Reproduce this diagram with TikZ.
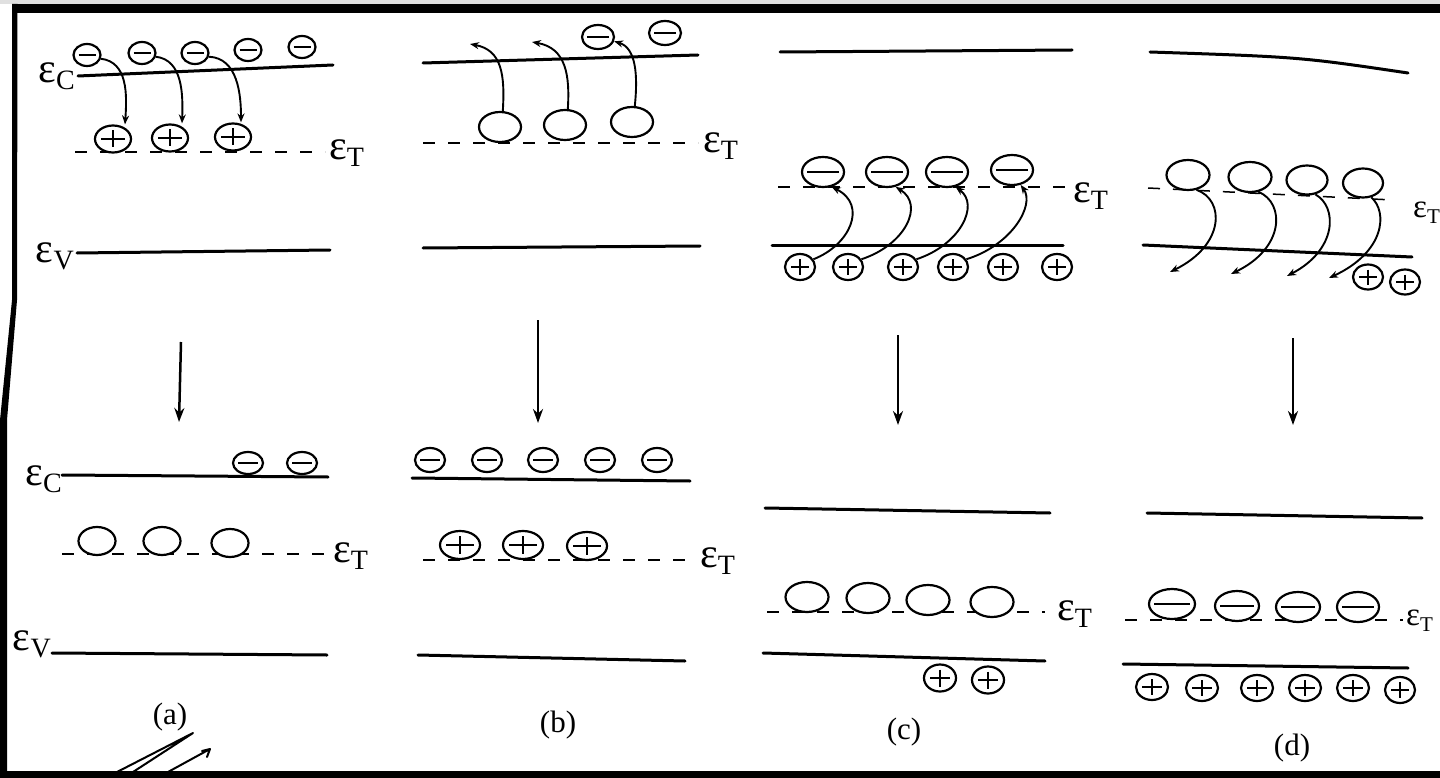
\documentclass[tikz,border=0pt]{standalone}
\usepackage{fontspec}
\setmainfont{Liberation Serif}
\usetikzlibrary{shapes.geometric, arrows.meta}

\newcommand\lvlsub[1]{\raisebox{-7pt}{\fontsize{28}{30}\selectfont #1}}
\newcommand\lvlsubsmall[1]{\raisebox{-6pt}{\fontsize{21}{22}\selectfont #1}}

\begin{document}
\begin{tikzpicture}[%
    x=1pt, y=-1pt,
    >={Stealth[length=9pt,width=7pt]},
    band/.style={line width=3pt, line cap=round},
    trap/.style={line width=1.5pt, dash pattern=on 12pt off 13pt},
    lvl/.style={font=\fontsize{42}{44}\selectfont, inner sep=0pt},
    lvlsmall/.style={font=\fontsize{33}{34}\selectfont, inner sep=0pt},
    tag/.style={font=\fontsize{31}{34}\selectfont, inner sep=0pt},
    dims/.style 2 args={minimum width=#1pt, minimum height=#2pt},
    site/.style={ellipse, draw, fill=white, line width=2.2pt, inner sep=0pt},
    elec/.style={site, path picture={%
        \draw[line width=1.5pt] ([xshift=5pt]path picture bounding box.west)
          -- ([xshift=-5pt]path picture bounding box.east);}},
    hole/.style={site, path picture={%
        \draw[line width=2pt] ([xshift=6pt]path picture bounding box.west)
          -- ([xshift=-6pt]path picture bounding box.east)
          ([yshift=-5pt]path picture bounding box.north)
          -- ([yshift=5pt]path picture bounding box.south);}},
    jump/.style={->, line width=1.9pt},
    drop/.style={-{Stealth[length=14pt,width=10pt]}, line width=2.5pt},
    scribble/.style={line width=2pt, line cap=round, line join=round}
  ]

  \useasboundingbox (0,0) rectangle (1440,778);

  % Frame
  \fill[black!12] (0,0) rectangle (1440,4);
  \fill (12,4) rectangle (1440,13);
  \fill (0,771) rectangle (1440,778);
  \fill (12,4) -- (17.5,4) -- (17,300) -- (7,420) -- (7,778) -- (0,778)
    -- (0,420) -- (12,300) -- cycle;

  % ---------------- (a) before ----------------
  \draw[band] (78,76) -- (333,65);
  \draw[band] (77,253) -- (330,250);
  \draw[trap] (75,152) -- (325,152);
  \node[lvl, anchor=base east] (aC) at (75,83) {ε\lvlsub{C}};
  \node[lvl, anchor=base east] (aV) at (74,262) {ε\lvlsub{V}};
  \node[lvl, anchor=base west] (aT) at (329,160) {ε\lvlsub{T}};

  \node[elec, dims={27}{22}] (ae1) at (87,55) {};
  \node[elec, dims={27}{22}] (ae2) at (142,53) {};
  \node[elec, dims={27}{22}] (ae3) at (195,53) {};
  \node[elec, dims={27}{22}] (ae4) at (248,50) {};
  \node[elec, dims={27}{22}] (ae5) at (302,47) {};

  \node[hole, dims={36}{27}] (ap1) at (113,139) {};
  \node[hole, dims={36}{27}] (ap2) at (170,138) {};
  \node[hole, dims={36}{27}] (ap3) at (233,137) {};

  \draw[jump] (ae1.-15) .. controls (128,62) and (127,95) .. ([xshift=12pt]ap1.north);
  \draw[jump] (ae2.-15) .. controls (183,60) and (183,95) .. ([xshift=12pt]ap2.north);
  \draw[jump] (ae3.-15) .. controls (238,58) and (241,95) .. ([xshift=8pt]ap3.north);

  % ---------------- (b) before ----------------
  \draw[band] (423,63) -- (698,55);
  \draw[band] (423,248) -- (700,246);
  \draw[trap] (423,143) -- (698,143);
  \node[lvl, anchor=base west] (bT) at (703,153) {ε\lvlsub{T}};

  \node[elec, dims={32}{24}] (be1) at (598,37) {};
  \node[elec, dims={32}{24}] (be2) at (665,33) {};

  \node[site, dims={42}{30}] (bt1) at (500,127) {};
  \node[site, dims={42}{30}] (bt2) at (565,125) {};
  \node[site, dims={42}{30}] (bt3) at (632,122) {};

  \coordinate (bx1) at (470,44);
  \coordinate (bx2) at (532,42);
  \draw[jump] (bt1.80) .. controls (505,75) and (502,50) .. (bx1);
  \draw[jump] (bt2.80) .. controls (570,75) and (566,48) .. (bx2);
  \draw[jump] (bt3.80) .. controls (638,75) and (636,48) .. (be1.-15);

  % ---------------- (c) before ----------------
  \draw[band] (780,52) -- (1072,50);
  \draw[band] (772,245) -- (1063,245);
  \draw[trap] (778,187) -- (1068,187);
  \node[lvl, anchor=base west] (cT) at (1073,203) {ε\lvlsub{T}};

  \node[elec, dims={42}{30}] (ct1) at (823,172) {};
  \node[elec, dims={42}{30}] (ct2) at (887,172) {};
  \node[elec, dims={42}{30}] (ct3) at (947,172) {};
  \node[elec, dims={42}{30}] (ct4) at (1012,170) {};

  \node[hole, dims={30}{26}] (ch1) at (800,267) {};
  \node[hole, dims={30}{26}] (ch2) at (848,267) {};
  \node[hole, dims={30}{26}] (ch3) at (903,267) {};
  \node[hole, dims={30}{26}] (ch4) at (953,267) {};
  \node[hole, dims={30}{26}] (ch5) at (1003,267) {};
  \node[hole, dims={30}{26}] (ch6) at (1057,267) {};

  \draw[jump] (ch1.30) .. controls (850,245) and (868,205) .. (ct1.-60);
  \draw[jump] (ch2.30) .. controls (905,245) and (925,205) .. (ct2.-60);
  \draw[jump] (ch3.30) .. controls (960,245) and (980,205) .. (ct3.-60);
  \draw[jump] (ch4.30) .. controls (1012,245) and (1035,205) .. (ct4.-60);

  % ---------------- (d) before ----------------
  \draw[band] (1150,52) .. controls (1300,57) .. (1408,73);
  \draw[band] (1143,245) -- (1412,257);
  \draw[trap] (1148,188) -- (1393,200);
  \node[lvlsmall, anchor=base west] (dT) at (1413,218) {ε\lvlsubsmall{T}};

  \node[site, dims={43}{30}] (dt1) at (1188,175) {};
  \node[site, dims={43}{30}] (dt2) at (1250,177) {};
  \node[site, dims={41}{29}] (dt3) at (1307,180) {};
  \node[site, dims={40}{29}] (dt4) at (1363,183) {};

  \node[hole, dims={30}{25}] (dh1) at (1368,277) {};
  \node[hole, dims={30}{25}] (dh2) at (1405,282) {};

  \coordinate (dx1) at (1170,272);
  \coordinate (dx2) at (1231,274);
  \coordinate (dx3) at (1287,276);
  \coordinate (dx4) at (1329,278);
  \draw[jump] (dt1.-60) .. controls (1225,200) and (1225,245) .. (dx1);
  \draw[jump] (dt2.-60) .. controls (1285,203) and (1285,248) .. (dx2);
  \draw[jump] (dt3.-60) .. controls (1338,207) and (1337,250) .. (dx3);
  \draw[jump] (dt4.-60) .. controls (1388,212) and (1385,252) .. (dx4);

  % ---------------- transitions ----------------
  \coordinate (aTop) at (181,342);
  \coordinate (aBot) at (179,422);
  \coordinate (bTop) at (538,320);
  \coordinate (bBot) at (538,423);
  \coordinate (cTop) at (898,335);
  \coordinate (cBot) at (898,425);
  \coordinate (dTop) at (1293,338);
  \coordinate (dBot) at (1293,425);
  \draw[drop] (aTop) -- (aBot);
  \draw[drop] (bTop) -- (bBot);
  \draw[drop] (cTop) -- (cBot);
  \draw[drop] (dTop) -- (dBot);

  % ---------------- (a) after ----------------
  \draw[band] (62,475) -- (328,477);
  \draw[band] (52,653) -- (327,655);
  \draw[trap] (62,554) -- (330,554);
  \node[lvl, anchor=base east] (aC2) at (62,485) {ε\lvlsub{C}};
  \node[lvl, anchor=base east] (aV2) at (51,650) {ε\lvlsub{V}};
  \node[lvl, anchor=base west] (aT2) at (333,562) {ε\lvlsub{T}};

  \node[elec, dims={30}{22}] (ae6) at (248,463) {};
  \node[elec, dims={30}{22}] (ae7) at (302,463) {};

  \node[site, dims={37}{28}] (as1) at (97,541) {};
  \node[site, dims={37}{28}] (as2) at (162,541) {};
  \node[site, dims={37}{28}] (as3) at (230,543) {};

  \node[tag] (la) at (170,717) {(a)};

  \draw[scribble] (117,772) -- (193,733) -- (133,772);
  \draw[scribble] (168,772) -- (210,749) (202,751) -- (210,749) -- (207,757);

  % ---------------- (b) after ----------------
  \draw[band] (412,478) -- (690,481);
  \draw[band] (418,655) -- (685,661);
  \draw[trap] (423,560) -- (693,560);
  \node[lvl, anchor=base west] (bT2) at (700,567) {ε\lvlsub{T}};

  \node[elec, dims={30}{24}] (be3) at (430,460) {};
  \node[elec, dims={30}{24}] (be4) at (487,460) {};
  \node[elec, dims={30}{24}] (be5) at (543,460) {};
  \node[elec, dims={30}{24}] (be6) at (600,460) {};
  \node[elec, dims={30}{24}] (be7) at (657,460) {};

  \node[hole, dims={40}{28}] (bp1) at (460,545) {};
  \node[hole, dims={40}{28}] (bp2) at (523,545) {};
  \node[hole, dims={40}{28}] (bp3) at (587,546) {};

  \node[tag] (lb) at (558,725) {(b)};

  % ---------------- (c) after ----------------
  \draw[band] (765,508) -- (1050,513);
  \draw[band] (763,653) -- (1045,661);
  \draw[trap] (767,612) -- (1045,612);
  \node[lvl, anchor=base west] (cT2) at (1057,620) {ε\lvlsub{T}};

  \node[site, dims={43}{30}] (cs1) at (807,597) {};
  \node[site, dims={43}{30}] (cs2) at (868,598) {};
  \node[site, dims={43}{30}] (cs3) at (928,600) {};
  \node[site, dims={43}{30}] (cs4) at (992,602) {};

  \node[hole, dims={32}{27}] (ch7) at (940,678) {};
  \node[hole, dims={32}{27}] (ch8) at (988,680) {};

  \node[tag] (lc) at (904,732) {(c)};

  % ---------------- (d) after ----------------
  \draw[band] (1147,513) -- (1422,518);
  \draw[band] (1123,664) -- (1408,668);
  \draw[trap] (1125,620) -- (1403,620);
  \node[lvlsmall, anchor=base west] (dT2) at (1406,625) {ε\lvlsubsmall{T}};

  \node[elec, dims={46}{30}] (dm1) at (1172,604) {};
  \node[elec, dims={44}{30}] (dm2) at (1237,606) {};
  \node[elec, dims={44}{30}] (dm3) at (1298,607) {};
  \node[elec, dims={42}{30}] (dm4) at (1358,607) {};

  \node[hole, dims={32}{26}] (dh3) at (1152,687) {};
  \node[hole, dims={32}{26}] (dh4) at (1202,688) {};
  \node[hole, dims={32}{26}] (dh5) at (1257,688) {};
  \node[hole, dims={32}{26}] (dh6) at (1305,688) {};
  \node[hole, dims={32}{26}] (dh7) at (1353,688) {};
  \node[hole, dims={30}{26}] (dh8) at (1400,690) {};

  \node[tag] (ld) at (1292,748) {(d)};

\end{tikzpicture}
\end{document}
